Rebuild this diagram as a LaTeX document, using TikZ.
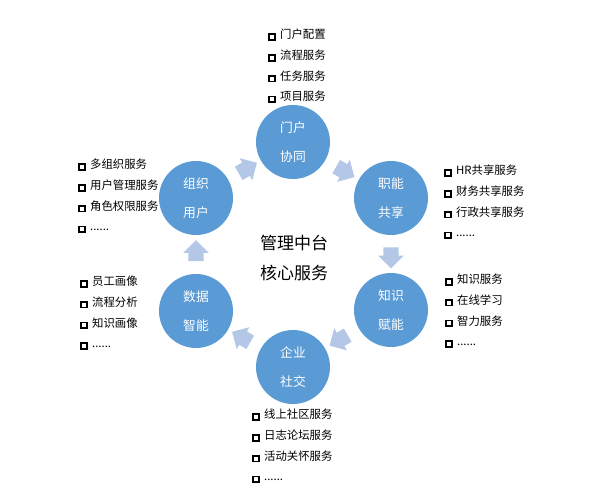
\documentclass[tikz,border=0pt]{standalone}
\usepackage{fontspec}
\setmainfont{Noto Sans CJK SC}
\usetikzlibrary{shapes.arrows,calc}
\definecolor{hubblue}{HTML}{5B9BD5}
\definecolor{hubarrowblue}{HTML}{B4C7E7}
\newcommand{\sqmark}{{\setlength{\fboxrule}{1.7pt}\setlength{\fboxsep}{2pt}\raisebox{1.6pt}{\fbox{}}}\hspace{4.5pt}}

\begin{document}
\begin{tikzpicture}[x=1pt,y=1pt]
			\tikzset{hubnode/.style={circle, fill=hubblue, minimum size=74pt,
						inner sep=0pt, text=white, align=center,
						font=\fontsize{12.8}{29}\selectfont}}
			\tikzset{hubarrow/.style={single arrow, fill=hubarrowblue, inner xsep=0pt,
						inner ysep=7.5pt, minimum width=0pt, minimum height=21pt,
						single arrow head extend=5pt}}
			\tikzset{hublist/.style={anchor=west, align=left, inner sep=0pt,
						font=\fontsize{11.4}{20.7}\selectfont}}

			\useasboundingbox (0,0) rectangle (604,491);

			\node[hubnode] (menhu) at (293,349) {门户\\协同};
			\node[hubnode] (zhineng) at (391,293) {职能\\共享};
			\node[hubnode] (zhishi) at (391,181) {知识\\赋能};
			\node[hubnode] (qiye) at (293,124) {企业\\社交};
			\node[hubnode] (shuju) at (196,180) {数据\\智能};
			\node[hubnode] (zuzhi) at (196,293) {组织\\用户};

			\node[align=center, font=\fontsize{17}{30}\selectfont] (core) at (294,233) {管理中台\\核心服务};

			\node[hubarrow, rotate=-30] (a1) at ($(menhu)!0.5!(zhineng)$) {};
			\node[hubarrow, rotate=-90] (a2) at ($(zhineng)!0.5!(zhishi)$) {};
			\node[hubarrow, rotate=-150] (a3) at ($(zhishi)!0.5!(qiye)$) {};
			\node[hubarrow, rotate=150] (a4) at ($(qiye)!0.5!(shuju)$) {};
			\node[hubarrow, rotate=90] (a5) at ($(shuju)!0.5!(zuzhi)$) {};
			\node[hubarrow, rotate=30] (a6) at ($(zuzhi)!0.5!(menhu)$) {};

			\node[hublist] (menhulist) at (268,425) {\sqmark 门户配置\\\sqmark 流程服务\\\sqmark 任务服务\\\sqmark 项目服务};
			\node[hublist] (zhinenglist) at (444,289) {\sqmark HR共享服务\\\sqmark 财务共享服务\\\sqmark 行政共享服务\\\sqmark ......};
			\node[hublist] (zhishilist) at (445,180) {\sqmark 知识服务\\\sqmark 在线学习\\\sqmark 智力服务\\\sqmark ......};
			\node[hublist] (qiyelist) at (252,45) {\sqmark 线上社区服务\\\sqmark 日志论坛服务\\\sqmark 活动关怀服务\\\sqmark ......};
			\node[hublist] (shujulist) at (80,178) {\sqmark 员工画像\\\sqmark 流程分析\\\sqmark 知识画像\\\sqmark ......};
			\node[hublist] (zuzhilist) at (78,295) {\sqmark 多组织服务\\\sqmark 用户管理服务\\\sqmark 角色权限服务\\\sqmark ......};
		\end{tikzpicture}
\end{document}
